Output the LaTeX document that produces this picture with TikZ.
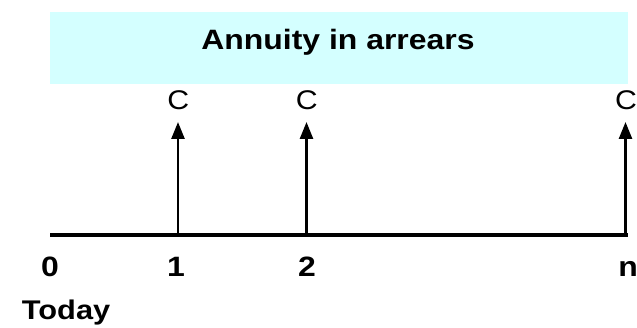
\documentclass[tikz,border=0pt]{standalone}
\usepackage{fontspec}
\setmainfont{Liberation Sans}
\newfontfamily\boldwide[FakeStretch=1.14]{Liberation Sans Bold}
\newfontfamily\regwide[FakeStretch=1.12]{Liberation Sans}
\usetikzlibrary{arrows.meta}
\definecolor{boxcyan}{RGB}{212,255,255}
\begin{document}
\begin{tikzpicture}[x=1pt,y=-1pt,
  lbl/.style={inner sep=0pt,anchor=base,font=\fontsize{28}{32}\selectfont\boldwide},
  cl/.style={inner sep=0pt,anchor=base,font=\fontsize{27}{30}\selectfont\regwide},
  axis/.style={line width=4pt},
  flow/.style={line width=2.6pt,-{Triangle[length=17pt,width=13pt]}}]
\useasboundingbox (0,0) rectangle (637,328);
\fill[boxcyan] (50,12) rectangle (628,84);
\node[lbl] (title) at (338,50) {Annuity in arrears};
% timeline
\coordinate (t0) at (50,235);
\coordinate (tend) at (628,235);
\coordinate (t1) at (178,235);
\coordinate (t2) at (306.5,235);
\coordinate (tn) at (625.5,235);
\coordinate (a1) at (178,122);
\coordinate (a2) at (306.5,122);
\coordinate (an) at (625.5,122);
\draw[axis] (t0) -- (tend);
\draw[flow] (t1) -- (a1);
\draw[flow] (t2) -- (a2);
\draw[flow] (tn) -- (an);
\node[cl] (c1) at (178.4,110) {C};
\node[cl] (c2) at (306.7,110) {C};
\node[cl] (cn) at (626,110) {C};
\node[lbl] (l0) at (50,277) {0};
\node[lbl] (l1) at (176,277) {1};
\node[lbl] (l2) at (307,277) {2};
\node[lbl] (ln) at (628,277) {n};
\node[lbl,anchor=base west,font=\fontsize{27}{30}\selectfont\boldwide] (today) at (21.7,319.3) {Today};
\end{tikzpicture}
\end{document}
